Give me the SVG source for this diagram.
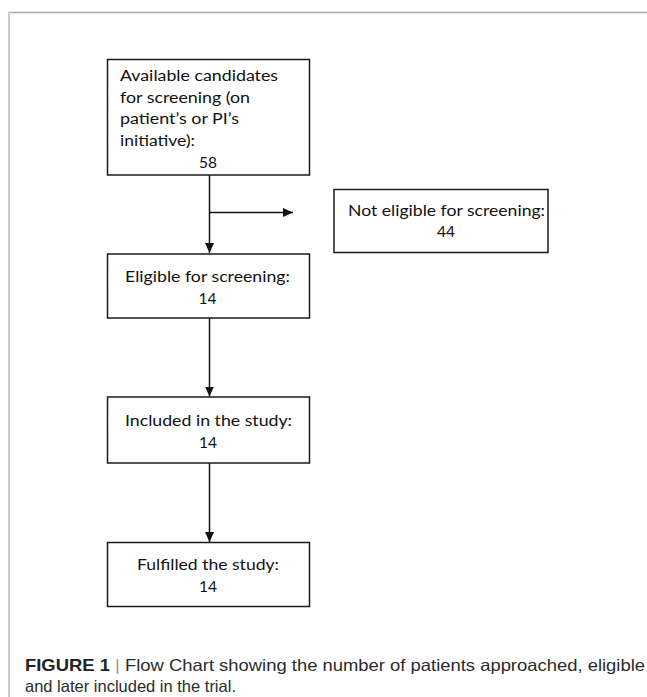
<svg xmlns="http://www.w3.org/2000/svg" width="647" height="697" viewBox="0 0 647 697">
<style>
.box{fill:#fff;stroke:#1a1a1a;stroke-width:1.5}
.t{font-family:Lato,"Liberation Sans",sans-serif;font-size:15.5px;fill:#111}
.c{text-anchor:middle}
.edge{stroke:#111;stroke-width:1.5;fill:none}
.cap{font-family:"Liberation Sans",Arial,sans-serif;font-size:16.5px;fill:#2b2b2b}
</style>
<defs>
<marker id="ah" viewBox="0 0 10 10" refX="10" refY="5" markerWidth="10" markerHeight="9" markerUnits="userSpaceOnUse" orient="auto" preserveAspectRatio="none"><path d="M0,0 L10,5 L0,10 z" fill="#111"/></marker>
</defs>
<g id="frame">
<line x1="8" y1="12.5" x2="647" y2="12.5" stroke="#aaaaaa" stroke-width="1.5"/>
<line x1="9" y1="12" x2="9" y2="697" stroke="#cccccc" stroke-width="2"/>
</g>
<g id="connectors">
<line class="edge" x1="209.5" y1="175" x2="209.5" y2="253" marker-end="url(#ah)"/>
<line class="edge" x1="209.5" y1="212.5" x2="293" y2="212.5" marker-end="url(#ah)"/>
<line class="edge" x1="209.5" y1="318" x2="209.5" y2="396.5" marker-end="url(#ah)"/>
<line class="edge" x1="209.5" y1="463" x2="209.5" y2="542" marker-end="url(#ah)"/>
</g>
<g id="available">
<rect class="box" x="107.5" y="59.5" width="202" height="115.5"/>
<text class="t" x="120" y="81" textLength="158" lengthAdjust="spacingAndGlyphs">Available candidates</text>
<text class="t" x="120" y="102.5" textLength="130" lengthAdjust="spacingAndGlyphs">for screening (on</text>
<text class="t" x="120" y="124" textLength="119" lengthAdjust="spacingAndGlyphs">patient’s or PI’s</text>
<text class="t" x="120" y="145.5" textLength="75" lengthAdjust="spacingAndGlyphs">initiative):</text>
<text class="t c" x="208" y="167.5">58</text>
</g>
<g id="not-eligible">
<rect class="box" x="334" y="189.5" width="214" height="63"/>
<text class="t" x="348" y="216" textLength="197" lengthAdjust="spacingAndGlyphs">Not eligible for screening:</text>
<text class="t c" x="446" y="237">44</text>
</g>
<g id="eligible">
<rect class="box" x="107.5" y="254" width="202" height="64"/>
<text class="t" x="125" y="282" textLength="165" lengthAdjust="spacingAndGlyphs">Eligible for screening:</text>
<text class="t c" x="207.5" y="303.5">14</text>
</g>
<g id="included">
<rect class="box" x="107.5" y="397" width="202" height="66"/>
<text class="t" x="125" y="425.5" textLength="167" lengthAdjust="spacingAndGlyphs">Included in the study:</text>
<text class="t c" x="208" y="447.5">14</text>
</g>
<g id="fulfilled">
<rect class="box" x="107.5" y="542.5" width="202" height="64"/>
<text class="t" x="137" y="569.5" textLength="142" lengthAdjust="spacingAndGlyphs">Fulfilled the study:</text>
<text class="t c" x="208" y="591.5">14</text>
</g>
<g id="caption">
<text class="cap" x="25" y="671" textLength="620" lengthAdjust="spacingAndGlyphs"><tspan font-weight="bold" fill="#222">FIGURE 1</tspan><tspan fill="#999"> | </tspan>Flow Chart showing the number of patients approached, eligible</text>
<text class="cap" x="25" y="692">and later included in the trial.</text>
</g>
</svg>
